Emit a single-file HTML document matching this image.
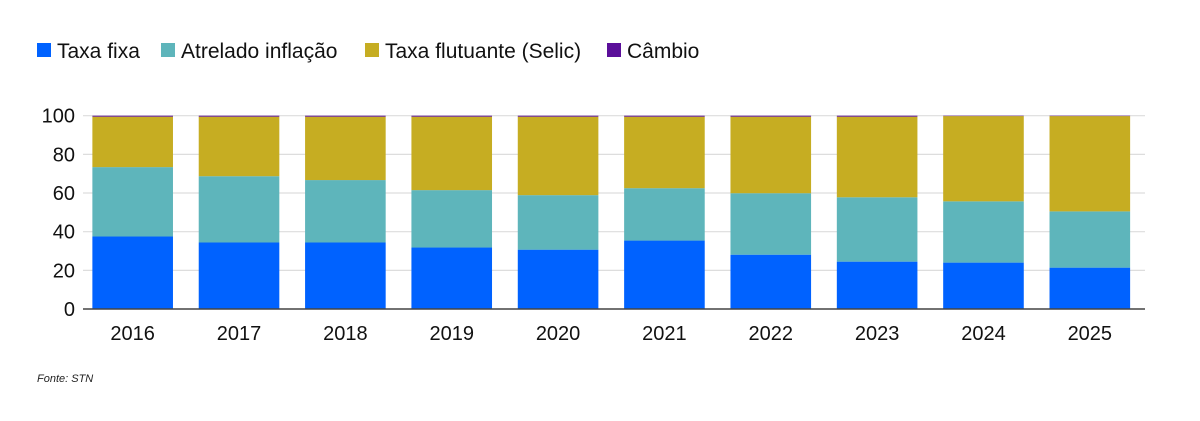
<!DOCTYPE html>
<html><head><meta charset="utf-8"><style>
body{margin:0;background:#fff;font-family:"Liberation Sans",sans-serif;}
svg{display:block}
</style></head><body>
<svg width="1200" height="421">
<g id="legend" font-size="21" fill="#111"></g>
<g id="grid"></g>
<g id="bars"></g>
<g id="yticks" font-size="20" fill="#111"></g>
<g id="xticks" font-size="20" fill="#111"></g>
<text x="37" y="382" font-size="11" font-style="italic" fill="#222">Fonte: STN</text>
</svg>
<script>
const years=["2016","2017","2018","2019","2020","2021","2022","2023","2024","2025"];
const fixa=[37.5,34.4,34.4,31.8,30.7,35.4,28.1,24.5,24,21.4];
const inflacao=[35.9,34.3,32.3,29.7,28.2,27.1,31.8,33.3,31.7,29.1];
const selic=[26.1,30.8,32.8,38,40.6,37,39.6,41.7,44.1,49.3];
const cambio=[0.5,0.5,0.5,0.5,0.5,0.5,0.5,0.5,0.2,0.2];
const yTicks=[0,20,40,60,80,100];
const seriesNames=["Taxa fixa","Atrelado inflação","Taxa flutuante (Selic)","Câmbio"];
const colors=["#0062ff","#5eb5bb","#c6ad22","#5b0f9a"];
const NS="http://www.w3.org/2000/svg";
const y0=309,y100=115.7;
const y=v=>y0-(y0-y100)*v/100;
const bandStart=79.5,band=106.35,barW=80.6;
const x=i=>bandStart+i*band+(band-barW)/2;
function mk(t,a,p){const e=document.createElementNS(NS,t);for(const k in a)e.setAttribute(k,a[k]);p.appendChild(e);return e;}
const grid=document.getElementById('grid');
yTicks.forEach(t=>{if(t>0){const l=mk('line',{x1:83,x2:1145,y1:y(t),y2:y(t),stroke:'#ddd','stroke-width':1.2},grid);

}
const tx=mk('text',{x:75,y:y(t)+7,'text-anchor':'end'},document.getElementById('yticks'));tx.textContent=t;

});
const bars=document.getElementById('bars');
const series=[fixa,inflacao,selic,cambio];
years.forEach((yr,i)=>{let acc=0;
series.forEach((s,j)=>{const v=s[i];const r=mk('rect',{x:x(i),y:y(acc+v),width:barW,height:y(acc)-y(acc+v),fill:colors[j]},bars);


acc+=v;});
const t=mk('text',{x:x(i)+barW/2,y:340,'text-anchor':'middle'},document.getElementById('xticks'));t.textContent=yr;

});
const ax=mk('line',{x1:83,x2:1145,y1:y0,y2:y0,stroke:'#444','stroke-width':1.5},grid.parentNode);


const lg=document.getElementById('legend');const lx=[37,161,365,607];
seriesNames.forEach((n,j)=>{const g=mk('g',{},lg);


mk('rect',{x:lx[j],y:43,width:14,height:14,fill:colors[j]},g);
const t=mk('text',{x:lx[j]+20,y:58},g);t.textContent=n;});
</script>
</body></html>
